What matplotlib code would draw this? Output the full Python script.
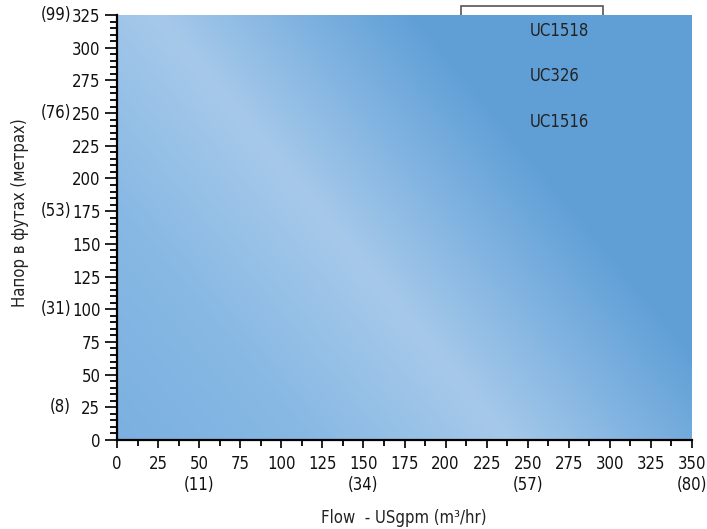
import numpy as np
import matplotlib.pyplot as plt
from matplotlib.colors import to_rgb
from matplotlib.patches import Rectangle
from matplotlib.ticker import MultipleLocator

plt.rcParams['font.family'] = ['DejaVu Sans']
plt.rcParams['font.stretch'] = 'condensed'

# axis data
flow_ticks = [0, 25, 50, 75, 100, 125, 150, 175, 200, 225, 250, 275, 300, 325, 350]
flow_metric = {50: "(11)", 150: "(34)", 250: "(57)", 350: "(80)"}
head_ticks = [0, 25, 50, 75, 100, 125, 150, 175, 200, 225, 250, 275, 300, 325]
head_metric = {325: "(99)", 250: "(76)", 175: "(53)", 100: "(31)", 25: "(8)"}

# curve labels
models = ["UC1518", "UC326", "UC1516"]
model_x = [251, 251, 251]
model_y = [313, 278, 243]

fig = plt.figure(figsize=(7.07, 5.29), dpi=100)
ax = fig.add_axes([117 / 707, 89 / 529, 575 / 707, 425 / 529])
ax.set_xlim(0, 350)
ax.set_ylim(0, 325)

# diagonal gradient background
w, h = 575, 425
px, py = np.meshgrid(np.arange(w), np.arange(h))
t = 0.771 * (px - 40) - 0.636 * py
stops_t = [-420, -300, -150, 0, 100, 200, 600]
stops_c = ["#78addf", "#7bb0e0", "#88b9e4", "#a6c9ea", "#82b4e1", "#5f9fd6", "#5f9fd6"]
rgb = np.array([to_rgb(c) for c in stops_c])
img = np.dstack([np.interp(t, stops_t, rgb[:, k]) for k in range(3)])
ax.imshow(img, extent=[0, 350, 0, 325], aspect='auto', origin='upper', zorder=1)

# legend box peeking out above the plot
ax.add_patch(Rectangle((209.4, 300), 86.4, 32, facecolor='white', edgecolor='#555555',
                       lw=1.2, clip_on=False, zorder=0.5))

for name, x, y in zip(models, model_x, model_y):
    ax.text(x, y, name, fontsize=12, color='#222222', va='center', ha='left', zorder=3)

# ticks
xlabels = [f"{v}\n{flow_metric[v]}" if v in flow_metric else str(v) for v in flow_ticks]
ax.set_xticks(flow_ticks)
ax.set_xticklabels(xlabels, fontsize=12, linespacing=1.2, va='top')
ax.xaxis.set_minor_locator(MultipleLocator(12.5))
ax.set_yticks(head_ticks)
ax.set_yticklabels([str(v) for v in head_ticks], fontsize=12)
ax.yaxis.set_minor_locator(MultipleLocator(5))
ax.tick_params(axis='x', which='major', length=6, width=1.3, pad=5, colors='#111111')
ax.tick_params(axis='x', which='minor', length=4, width=1.3)
ax.tick_params(axis='y', which='major', length=9, width=1.3, pad=3, colors='#111111')
ax.tick_params(axis='y', which='minor', length=5, width=1.3)

for v, lab in head_metric.items():
    ax.annotate(lab, xy=(0, v), xycoords=('axes fraction', 'data'), xytext=(-33, 0),
                textcoords='offset points', ha='right', va='center', fontsize=12,
                color='#111111')

for side in ['top', 'right']:
    ax.spines[side].set_visible(False)
for side in ['left', 'bottom']:
    ax.spines[side].set_linewidth(1.6)
    ax.spines[side].set_zorder(4)

ax.set_xlabel("Flow  - USgpm (m³/hr)", fontsize=12, color='#222222')
ax.xaxis.set_label_coords(0.499, -0.162)
ax.set_ylabel("Напор в футах (метрах)", fontsize=12, color='#222222')
ax.yaxis.set_label_coords(-0.153, 0.535)

fig.savefig("out.png", dpi=100)
